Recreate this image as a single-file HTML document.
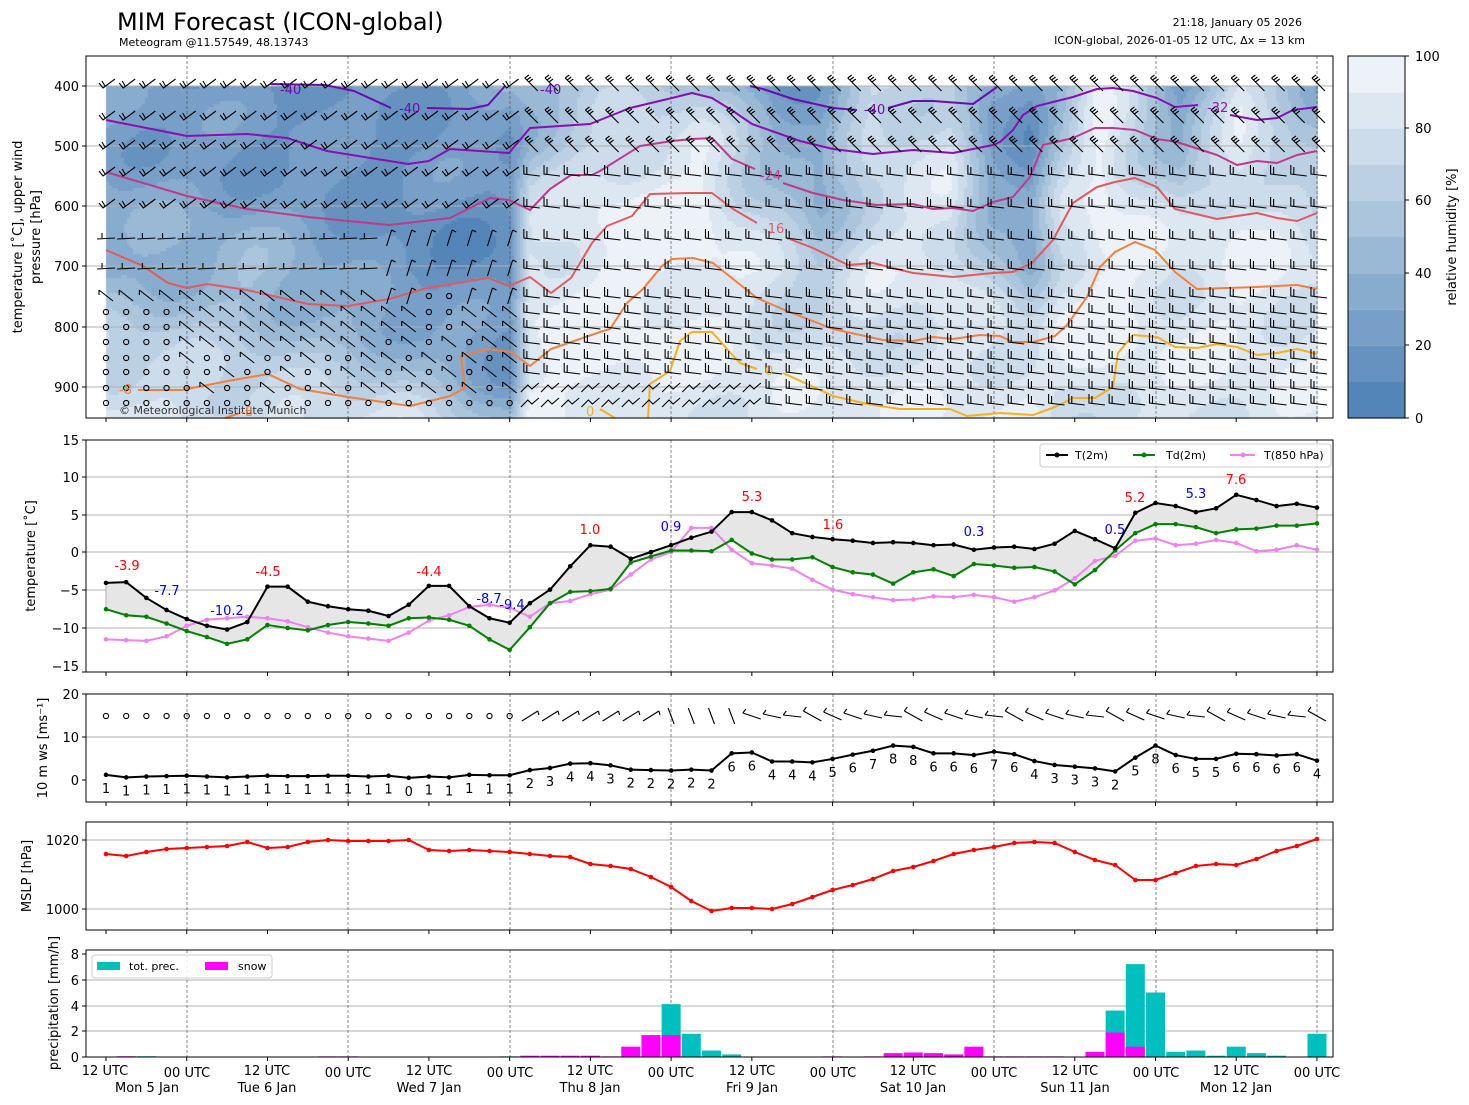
<!DOCTYPE html>
<html><head><meta charset="utf-8">
<style>
html,body{margin:0;padding:0;background:#fff;}
#wrap{position:relative;width:1469px;height:1105px;overflow:hidden;}
canvas{position:absolute;left:0;top:0;}
svg{position:absolute;left:0;top:0;}
text{font-family:"DejaVu Sans","Liberation Sans",sans-serif;}
</style></head>
<body>
<div id="wrap">
<canvas id="cv" width="1469" height="1105"></canvas>
<svg id="sv" width="1469" height="1105" xmlns="http://www.w3.org/2000/svg">
<g id="dyn"></g>
<text x="117" y="30" font-size="24">MIM Forecast (ICON-global)</text>
<text x="119" y="46" font-size="11">Meteogram @11.57549, 48.13743</text>
<text x="1302" y="26" font-size="11" text-anchor="end">21:18, January 05 2026</text>
<text x="1305" y="44" font-size="11" text-anchor="end">ICON-global, 2026-01-05 12 UTC, Δx = 13 km</text>
<g font-size="13" text-anchor="end">
<text x="79" y="91">400</text><text x="79" y="151">500</text><text x="79" y="211">600</text>
<text x="79" y="271">700</text><text x="79" y="332">800</text><text x="79" y="392">900</text>
</g>
<text transform="translate(22,237) rotate(-90)" font-size="13" text-anchor="middle">temperature [˚C], upper wind</text>
<text transform="translate(40,237) rotate(-90)" font-size="13" text-anchor="middle">pressure [hPa]</text>
<text x="119" y="414" font-size="11" fill="#333">© Meteorological Institute Munich</text>
<g font-size="13">
<text x="280" y="94" fill="#6a0dad">-40</text>
<text x="399" y="113" fill="#6a0dad">-40</text>
<text x="540" y="94" fill="#6a0dad">-40</text>
<text x="864" y="114" fill="#6a0dad">-40</text>
<text x="1207" y="112" fill="#8a1aa8">-32</text>
<text x="760" y="180" fill="#c03a8a">-24</text>
<text x="763" y="233" fill="#e05a60">-16</text>
<text x="119" y="394" fill="#f08040">-8</text>
<text x="240" y="416" fill="#f08040">-8</text>
<text x="765" y="375" fill="#f5b020">0</text>
<text x="586" y="416" fill="#f5b020">0</text>
</g>
<g font-size="13">
<text x="1415" y="423">0</text><text x="1415" y="350">20</text><text x="1415" y="278">40</text>
<text x="1415" y="205">60</text><text x="1415" y="133">80</text><text x="1415" y="61">100</text>
</g>
<text transform="translate(1456,237) rotate(-90)" font-size="13" text-anchor="middle">relative humidity [%]</text>
<g font-size="13" text-anchor="end">
<text x="79" y="445">15</text><text x="79" y="482">10</text><text x="79" y="520">5</text><text x="79" y="557">0</text>
<text x="79" y="595">−5</text><text x="79" y="633">−10</text><text x="79" y="671">−15</text>
</g>
<text transform="translate(35,556) rotate(-90)" font-size="13" text-anchor="middle">temperature [˚C]</text>
<g font-size="13" text-anchor="middle">
<text x="127" y="570" fill="red">-3.9</text>
<text x="167" y="595" fill="blue">-7.7</text>
<text x="227" y="615" fill="blue">-10.2</text>
<text x="268" y="576" fill="red">-4.5</text>
<text x="429" y="576" fill="red">-4.4</text>
<text x="489" y="603" fill="blue">-8.7</text>
<text x="512" y="609" fill="blue">-9.4</text>
<text x="590" y="534" fill="red">1.0</text>
<text x="671" y="531" fill="blue">0.9</text>
<text x="752" y="501" fill="red">5.3</text>
<text x="833" y="529" fill="red">1.6</text>
<text x="974" y="536" fill="blue">0.3</text>
<text x="1115" y="534" fill="blue">0.5</text>
<text x="1135" y="502" fill="red">5.2</text>
<text x="1196" y="498" fill="blue">5.3</text>
<text x="1236" y="484" fill="red">7.6</text>
</g>
<rect x="1040" y="444" width="291" height="23" rx="3" fill="#fff" fill-opacity="0.85" stroke="#ccc"/>
<line x1="1046" y1="455" x2="1068" y2="455" stroke="#000" stroke-width="2"/><circle cx="1057" cy="455" r="2.5"/>
<text x="1075" y="459" font-size="11">T(2m)</text>
<line x1="1133" y1="455" x2="1155" y2="455" stroke="#008000" stroke-width="2"/><circle cx="1144" cy="455" r="2.5" fill="#008000"/>
<text x="1166" y="459" font-size="11">Td(2m)</text>
<line x1="1230" y1="455" x2="1255" y2="455" stroke="#ee82ee" stroke-width="2"/><circle cx="1243" cy="455" r="2.5" fill="#ee82ee"/>
<text x="1264" y="459" font-size="11">T(850 hPa)</text>
<g font-size="13" text-anchor="end">
<text x="79" y="699">20</text><text x="79" y="742">10</text><text x="79" y="785">0</text>
</g>
<text transform="translate(47,748) rotate(-90)" font-size="13" text-anchor="middle">10 m ws [ms⁻¹]</text>
<g font-size="13" text-anchor="end">
<text x="79" y="845">1020</text><text x="79" y="914">1000</text>
</g>
<text transform="translate(31,876) rotate(-90)" font-size="13" text-anchor="middle">MSLP [hPa]</text>
<g font-size="13" text-anchor="end">
<text x="79" y="959">8</text><text x="79" y="985">6</text><text x="79" y="1011">4</text><text x="79" y="1036">2</text><text x="79" y="1062">0</text>
</g>
<text transform="translate(58,1003) rotate(-90)" font-size="13" text-anchor="middle">precipitation [mm/h]</text>
<rect x="92" y="955" width="180" height="23" rx="3" fill="#fff" fill-opacity="0.85" stroke="#ccc"/>
<rect x="97" y="962" width="23" height="8" fill="#00bfbf"/>
<text x="129" y="970" font-size="11">tot. prec.</text>
<rect x="205" y="962" width="23" height="8" fill="#ff00ff"/>
<text x="238" y="970" font-size="11">snow</text>
<g font-size="13" text-anchor="middle">
<text x="105" y="1075">12 UTC</text><text x="187" y="1077">00 UTC</text>
<text x="267" y="1075">12 UTC</text><text x="348" y="1077">00 UTC</text>
<text x="429" y="1075">12 UTC</text><text x="510" y="1077">00 UTC</text>
<text x="590" y="1075">12 UTC</text><text x="671" y="1077">00 UTC</text>
<text x="752" y="1075">12 UTC</text><text x="833" y="1077">00 UTC</text>
<text x="913" y="1075">12 UTC</text><text x="994" y="1077">00 UTC</text>
<text x="1075" y="1075">12 UTC</text><text x="1156" y="1077">00 UTC</text>
<text x="1236" y="1075">12 UTC</text><text x="1317" y="1077">00 UTC</text>
<text x="147" y="1092">Mon 5 Jan</text><text x="267" y="1092">Tue 6 Jan</text>
<text x="429" y="1092">Wed 7 Jan</text><text x="590" y="1092">Thu 8 Jan</text>
<text x="752" y="1092">Fri 9 Jan</text><text x="913" y="1092">Sat 10 Jan</text>
<text x="1075" y="1092">Sun 11 Jan</text><text x="1236" y="1092">Mon 12 Jan</text>
</g>
<g id="ws" font-size="13" text-anchor="middle"></g>
</svg>
</div>
<script>
(function(){
var NS="http://www.w3.org/2000/svg";
var dyn=document.getElementById("dyn");
function el(n,a,parent){var e=document.createElementNS(NS,n);for(var k in a)e.setAttribute(k,a[k]);(parent||dyn).appendChild(e);return e;}
function X(i){return 106+i*20.183;}
var ctx=document.getElementById("cv").getContext("2d");
var ax=[106,250,400,510,530,600,700,780,820,870,950,990,1030,1060,1100,1180,1240,1317];
var ap=[400,500,600,700,800,900,950];
var R=[
[25,30,35,35,60,80,90],[20,20,30,45,55,70,80],[25,15,20,15,35,60,80],[35,25,20,10,20,25,40],
[45,50,70,85,90,90,90],[60,75,90,95,95,95,90],[55,90,95,95,90,85,85],[20,40,60,75,80,85,85],
[30,25,40,60,75,80,85],[70,70,75,80,80,85,85],[70,75,85,85,80,85,85],[25,30,40,60,80,90,90],
[20,20,25,35,75,90,90],[40,60,70,80,90,80,70],[90,95,95,95,95,90,80],[25,40,70,85,85,85,85],
[80,85,90,90,90,85,85],[40,50,70,80,85,85,85]];
function interp(arr,v){for(var i=0;i<arr.length-1;i++){if(v<=arr[i+1])return [i,(v-arr[i])/(arr[i+1]-arr[i])];}return [arr.length-2,1];}
function rh(x,p){var a=interp(ax,x),b=interp(ap,p);var i=a[0],t=a[1],j=b[0],u=b[1];
 var v0=R[i][j]*(1-u)+R[i][j+1]*u, v1=R[i+1][j]*(1-u)+R[i+1][j+1]*u; 
 var n=Math.sin(x*0.05+p*0.02)*6+Math.sin(x*0.013-p*0.031)*6;
 return Math.max(0,Math.min(99.9,v0*(1-t)+v1*t+n));}
var c0=[74,126,180],c5=[163,191,217],c1=[244,248,251];
function col(v){var l=Math.floor(v/10)*10+5;var a,b,t;if(l<50){a=c0;b=c5;t=l/50;}else{a=c5;b=c1;t=(l-50)/50;}
 return "rgb("+Math.round(a[0]+(b[0]-a[0])*t)+","+Math.round(a[1]+(b[1]-a[1])*t)+","+Math.round(a[2]+(b[2]-a[2])*t)+")";}
for(var x=106;x<1317;x+=3){for(var y=86;y<418;y+=3){var p=400+(y+1.5-86)/0.6025;ctx.fillStyle=col(rh(x+1.5,p));ctx.fillRect(x,y,3,3);}}
for(var k=0;k<10;k++){ctx.fillStyle=col(k*10+1);ctx.fillRect(1348,418-(k+1)*36.2,57,36.4);}
var panels=[[56,418],[440,672],[694,802],[822,930],[950,1057]];
var hgrid=[[86,146,206,266,327,387],[477,515,552,590,628],[737],[840,909],[980,1006,1031]];
panels.forEach(function(pp,k){
 hgrid[k].forEach(function(y){el("line",{x1:86,x2:1333,y1:y,y2:y,stroke:"#b0b0b0","stroke-width":1});});
 [187,348,510,671,833,994,1156,1317].forEach(function(x){el("line",{x1:x,x2:x,y1:pp[0],y2:pp[1],stroke:"#555","stroke-width":0.7,"stroke-dasharray":"3,2"});});
});
function pl(pts,c,w){el("polyline",{points:pts.join(" "),fill:"none",stroke:c,"stroke-width":w||2,"stroke-linejoin":"round"});}
pl(["270,84","325,85","354,91","391,108"],"#6a0dad");
pl(["427,108","469,109","488,105","505,86"],"#6a0dad");
pl(["750,86","763,89","793,99","833,108","857,110"],"#6a0dad");
pl(["888,108","913,101","933,101","973,104","997,87"],"#6a0dad");
pl(["106,120","187,136","247,134","287,138","327,151","408,164","429,161","450,149","509,153","530,128","590,124","630,108","672,98","692,93","712,98","733,111","752,124","800,141","833,149","873,154","913,150","953,153","993,145","1000,142","1013,130","1023,115","1037,106","1073,97","1097,89","1113,88","1133,91","1157,98","1175,107","1198,105"],"#8a0fb0");
pl(["1230,115","1257,120","1277,118","1293,110","1317,107"],"#8a0fb0");
pl(["106,172","187,196","247,209","308,217","389,225","450,218","490,198","509,200","530,210","550,189","571,175","592,175","600,171","640,146","672,141","692,139","712,138","732,159","755,169"],"#c03a8a");
pl(["783,183","813,193","843,200","877,205","913,204","933,209","953,208","973,211","993,202","1013,197","1030,177","1043,145","1073,138","1095,128","1113,128","1135,130","1157,139","1177,142","1217,155","1237,165","1257,161","1277,163","1297,155","1317,151"],"#c03a8a");
pl(["106,250","143,266","168,283","187,288","207,284","247,290","308,304","348,306","389,299","427,288","488,278","509,286","530,277","551,293","571,278","592,243","607,226","632,216","650,194","690,193","712,193","733,209","757,223"],"#e05a60");
pl(["787,238","813,248","848,265","873,263","913,273","953,277","993,273","1013,272","1032,263","1053,240","1073,203","1097,187","1115,182","1135,178","1157,187","1175,209","1217,219","1257,213","1277,218","1297,221","1317,213"],"#e05a60");
pl(["138,390","182,390","228,381","268,374","300,389","348,397","410,406","450,396","465,388","461,356","488,349","511,352","530,366","551,349","603,331","610,329","627,303","643,289","662,266","672,259","693,258","713,263","733,279","757,298","787,311","833,329","883,340","913,341","933,337","953,339","980,335","1000,336","1013,342","1033,342","1055,336","1067,325","1087,297","1100,267","1115,252","1135,242","1155,250","1175,272","1197,289","1257,287","1297,285","1317,289"],"#f08040");
pl(["225,418","240,413"],"#f08040");
pl(["648,418","650,384","670,371","680,341","692,332","712,332","727,349","740,363","757,369"],"#f5b020");
pl(["783,373","807,384","833,396","867,404","900,409","950,409","967,416","1000,413","1033,415","1055,407","1073,398","1095,398","1113,387","1118,353","1133,335","1157,337","1175,347","1197,348","1217,344","1237,347","1257,355","1277,353","1297,349","1317,354"],"#f5b020");
pl(["600,409","615,418"],"#f5b020");
var rows=[86,118,147,174,206,238,268,296,312,327,342,358,372,388,403];
var bg=el("g",{stroke:"#000","stroke-width":1.1,fill:"none"});
for(var i=0;i<61;i++){var x=X(i);
 for(var r=0;r<rows.length;r++){var y=rows[r];
  if(i<=20){
   var calm=(y>=312&&i<=3)||(y>=358&&i<=12&&(i+r)%3!=0)||(y==403)||(y>=296&&(i==16||i==17)&&y<=327)||(y>=342&&i>=14&&i<=19&&(i+r)%2==0);
   if(calm){el("circle",{cx:x,cy:y,r:2.6},bg);continue;}
   if(y<=206){el("polyline",{points:(x-7)+","+(y-3)+" "+(x-3)+","+(y+2)+" "+(x+9)+","+(y-7)},bg);el("line",{x1:x-1,y1:y,x2:x-4,y2:y-5},bg);}
   else if(y<=268&&i<14){el("polyline",{points:(x-9)+","+(y+1)+" "+(x+9)+","+(y)+" "},bg);el("line",{x1:x-4,y1:y,x2:x-4,y2:y-5},bg);}
   else if(i>=14&&y<=296){el("line",{x1:x-2,y1:y+8,x2:x+3,y2:y-8},bg);el("line",{x1:x+3,y1:y-8,x2:x+7,y2:y-6},bg);}
   else{el("line",{x1:x-7,y1:y-6,x2:x+7,y2:y+5},bg);el("line",{x1:x-7,y1:y-6,x2:x-7,y2:y-1},bg);}
  } else {
   if(y<=147){el("line",{x1:x-5,y1:y-8,x2:x+8,y2:y+5},bg);el("line",{x1:x-5,y1:y-8,x2:x-1,y2:y-11},bg);el("line",{x1:x-3,y1:y-6,x2:x+1,y2:y-9},bg);el("line",{x1:x-1,y1:y-4,x2:x+3,y2:y-7},bg);}
   else if(y>=388&&i<=32){el("polyline",{points:(x-9)+","+(y+4)+" "+(x-2)+","+(y-3)+" "+(x+2)+","+(y+1)+" "+(x+9)+","+(y-5)},bg);}
   else{el("polyline",{points:(x-6)+","+(y-9)+" "+(x-6)+","+y+" "+(x+10)+","+(y+2)},bg);el("line",{x1:x-3,y1:y-7,x2:x-3,y2:y},bg);}
  }
 }}
var T=[-4.1,-4.0,-6.1,-7.7,-8.9,-9.8,-10.3,-9.3,-4.6,-4.6,-6.6,-7.2,-7.6,-7.8,-8.5,-7.0,-4.5,-4.5,-7.2,-8.8,-9.4,-6.8,-5.0,-1.9,0.9,0.7,-0.9,0,0.9,1.9,2.7,5.3,5.3,4.2,2.5,2.0,1.7,1.5,1.2,1.3,1.2,0.9,1.0,0.3,0.6,0.7,0.4,1.1,2.8,1.7,0.5,5.2,6.5,6.1,5.3,5.8,7.6,6.9,6.1,6.4,5.9];
var Td=[-7.6,-8.4,-8.6,-9.5,-10.5,-11.3,-12.2,-11.6,-9.7,-10.1,-10.4,-9.7,-9.3,-9.5,-9.8,-8.8,-8.7,-9.0,-9.8,-11.6,-13.0,-10.0,-6.8,-5.3,-5.2,-4.9,-1.4,-0.6,0.2,0.2,0.1,1.6,-0.2,-1.0,-1.0,-0.7,-2.0,-2.7,-3.0,-4.2,-2.7,-2.3,-3.2,-1.6,-1.8,-2.1,-2.0,-2.6,-4.3,-2.4,0.2,2.5,3.7,3.7,3.3,2.5,3.0,3.1,3.5,3.5,3.8];
var T8=[-11.6,-11.7,-11.8,-11.2,-9.8,-9.0,-8.8,-8.6,-8.8,-9.2,-10.0,-10.7,-11.2,-11.5,-11.8,-10.7,-9.1,-8.4,-7.3,-7.0,-7.4,-8.6,-6.8,-6.5,-5.6,-5.0,-3.0,-1.0,0,3.2,3.2,0.3,-1.5,-1.8,-2.2,-3.7,-5.0,-5.6,-6.0,-6.4,-6.3,-5.9,-6.0,-5.7,-6.0,-6.6,-6.0,-5.1,-3.5,-1.2,-0.5,1.5,1.8,0.9,1.1,1.6,1.2,0.1,0.3,0.9,0.3];
function Y2(v){return 552-7.53*v;}
var poly=[];for(i=0;i<61;i++)poly.push(X(i)+","+Y2(T[i]));for(i=60;i>=0;i--)poly.push(X(i)+","+Y2(Td[i]));
el("polygon",{points:poly.join(" "),fill:"#e6e6e6",stroke:"#888","stroke-width":0.6});
function series(arr,fy,c,w,r){var pts=arr.map(function(v,i){return X(i)+","+fy(v);});el("polyline",{points:pts.join(" "),fill:"none",stroke:c,"stroke-width":w});
 arr.forEach(function(v,i){el("circle",{cx:X(i),cy:fy(v),r:r,fill:c});});}
series(T8,Y2,"#ee82ee",2,2.3);series(Td,Y2,"#008000",2,2.3);series(T,Y2,"#000",2,2.3);
var W=[1.2,0.6,0.8,0.9,1.0,0.8,0.6,0.8,1.0,0.9,0.9,1.0,1.0,0.8,1.0,0.5,0.8,0.6,1.2,1.1,1.1,2.3,2.8,3.8,3.9,3.4,2.4,2.3,2.2,2.4,2.2,6.2,6.4,4.3,4.3,4.1,4.9,5.9,6.8,8.0,7.7,6.2,6.2,5.8,6.6,6.0,4.4,3.5,3.1,2.7,2.0,5.2,8.0,5.8,4.9,4.9,6.1,6.0,5.7,6.0,4.5];
var WL=[1,1,1,1,1,1,1,1,1,1,1,1,1,1,1,0,1,1,1,1,1,2,3,4,4,3,2,2,2,2,2,6,6,4,4,4,5,6,7,8,8,6,6,6,7,6,4,3,3,3,2,5,8,6,5,5,6,6,6,6,4];
function Y3(v){return 780-4.3*v;}
series(W,Y3,"#000",2,2.3);
var wsg=document.getElementById("ws");
WL.forEach(function(v,i){var t=el("text",{x:X(i),y:Y3(W[i])+18},wsg);t.textContent=v;});
var b3=el("g",{stroke:"#000","stroke-width":1.1,fill:"none"});
for(i=0;i<61;i++){var x=X(i),y=716;
 if(i<=20){el("circle",{cx:x,cy:y,r:2.6},b3);}
 else if(i<=27){el("line",{x1:x-8,y1:y+5,x2:x+8,y2:y-5},b3);el("line",{x1:x+8,y1:y-5,x2:x+9,y2:y-1},b3);}
 else if(i<=31){el("line",{x1:x-3,y1:y-8,x2:x+3,y2:y+8},b3);}
 else{var a=(i%5)-2;el("polyline",{points:(x-9)+","+(y-3+a)+" "+(x+9)+","+(y+3-a)},b3);el("line",{x1:x-9,y1:y-3+a,x2:x-6,y2:y-7+a},b3);}
}
var PY=[854,856,852,849,848,847,846,842,848,847,842,840,841,841,841,840,850,851,850,851,852,854,856,857,864,866,869,877,887,901,911,908,908,909,904,897,890,885,879,871,867,861,854,850,847,843,842,843,852,860,865,880,880,873,866,864,865,859,851,846,839];
series(PY,function(v){return v;},"#ff0000",2,2.3);
var tot=new Array(61).fill(0),snow=new Array(61).fill(0);
[[1,0,0.06],[2,0.06,0],[11,0,0.05],[12,0,0.05],[20,0.05,0],[21,0,0.1],[22,0,0.1],[23,0,0.1],[24,0,0.1],[25,0,0.05],[26,0,0.8],[27,0,1.7],[28,4.1,1.7],[29,1.8,0],[30,0.5,0],[31,0.2,0],[36,0,0.05],[38,0,0.05],[39,0,0.3],[40,0,0.35],[41,0,0.3],[42,0,0.2],[43,0,0.8],[44,0,0.05],[45,0,0.05],[46,0,0.05],[47,0,0.05],[49,0,0.4],[50,3.6,1.9],[51,7.2,0.8],[52,5.0,0],[53,0.4,0],[54,0.5,0],[55,0.1,0],[56,0.8,0],[57,0.3,0],[58,0.1,0],[60,1.8,0]].forEach(function(a){tot[a[0]]=a[1];snow[a[0]]=a[2];});
for(i=0;i<61;i++){var x=X(i)-9.5;
 if(tot[i]>0)el("rect",{x:x,y:1057-12.9*tot[i],width:19,height:12.9*tot[i],fill:"#00bfbf"});
 if(snow[i]>0)el("rect",{x:x,y:1057-12.9*snow[i],width:19,height:12.9*snow[i],fill:"#ff00ff"});
}
panels.forEach(function(pp,k){
 el("rect",{x:86,y:pp[0],width:1247,height:pp[1]-pp[0],fill:"none",stroke:"#000","stroke-width":1});
 for(var j=0;j<16;j++){var x=106+j*80.73;el("line",{x1:x,x2:x,y1:pp[1],y2:pp[1]+4,stroke:"#000"});}
 hgrid[k].forEach(function(y){el("line",{x1:82,x2:86,y1:y,y2:y,stroke:"#000"});});
});
[440,672,694,780,954,1057].forEach(function(y){el("line",{x1:82,x2:86,y1:y,y2:y,stroke:"#000"});});
el("rect",{x:1348,y:56,width:57,height:362,fill:"none",stroke:"#000"});
[418,345,273,200,128,56].forEach(function(y){el("line",{x1:1405,x2:1409,y1:y,y2:y,stroke:"#000"});});
})();
</script>
</body></html>
